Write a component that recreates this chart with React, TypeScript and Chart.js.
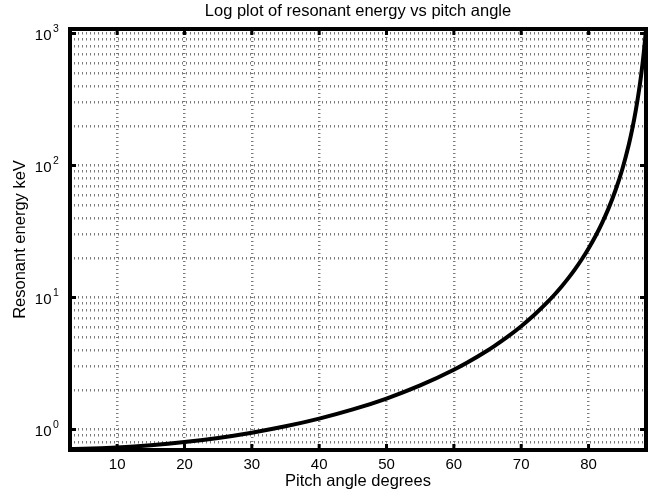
import React, { useEffect, useRef } from 'react';
import { Chart, registerables } from 'chart.js';

Chart.register(...registerables);

// Pitch angle (degrees) and resonant energy (keV)
const pitchAngles = [3, 5, 10, 15, 20, 25, 30, 35, 40, 45, 50, 55, 60, 62, 65, 66, 68, 70, 72, 74, 75, 76, 77, 78, 79, 80, 81, 82, 83, 84, 85, 86, 86.5, 87, 87.5, 87.8, 88, 88.1, 88.2, 88.3, 88.4, 88.53];
const resonantEnergy = [0.712, 0.715, 0.732, 0.761, 0.804, 0.864, 0.947, 1.058, 1.21, 1.42, 1.718, 2.158, 2.84, 3.221, 3.975, 4.292, 5.06, 6.07, 7.435, 9.345, 10.6, 12.13, 14.03, 16.42, 19.5, 23.55, 29.01, 36.66, 47.8, 64.98, 93.47, 145.9, 190.5, 259.2, 373.2, 481.8, 582.9, 645.9, 719.6, 806.7, 910.7, 1079];

// Axes
const xRange = [3, 88.53];
const yRange = [0.712, 1083];
const xTicks = [10, 20, 30, 40, 50, 60, 70, 80];
const yDecades = [1, 10, 100, 1000];
const yDecadeExponents = ['0', '1', '2', '3'];
const yGridValues = [
  0.8, 0.9,
  1, 2, 3, 4, 5, 6, 7, 8, 9,
  10, 20, 30, 40, 50, 60, 70, 80, 90,
  100, 200, 300, 400, 500, 600, 700, 800, 900,
  1000,
];

// Texts
const titleText = 'Log plot of resonant energy vs pitch angle';
const xLabelText = 'Pitch angle degrees';
const yLabelText = 'Resonant energy keV';

const FONT = '"Liberation Sans", Arial, Helvetica, sans-serif';

const matlabFrame = {
  id: 'matlabFrame',
  afterDraw(chart: any) {
    const { ctx, chartArea: a, scales } = chart;
    const xs = scales.x;
    const ys = scales.y;
    ctx.save();
    ctx.setLineDash([]);
    // frame
    ctx.strokeStyle = '#000';
    ctx.lineWidth = 4;
    ctx.lineJoin = 'miter';
    ctx.strokeRect(a.left, a.top, a.right - a.left, a.bottom - a.top);
    // inward ticks
    ctx.lineWidth = 3;
    ctx.lineCap = 'butt';
    ctx.beginPath();
    xTicks.forEach((v) => {
      const px = xs.getPixelForValue(v);
      ctx.moveTo(px, a.bottom);
      ctx.lineTo(px, a.bottom - 6);
      ctx.moveTo(px, a.top);
      ctx.lineTo(px, a.top + 6);
    });
    yDecades.forEach((v) => {
      const py = ys.getPixelForValue(v);
      ctx.moveTo(a.left, py);
      ctx.lineTo(a.left + 6, py);
      ctx.moveTo(a.right, py);
      ctx.lineTo(a.right - 6, py);
    });
    ctx.stroke();

    ctx.fillStyle = '#000';
    // x tick labels
    ctx.font = `15px ${FONT}`;
    ctx.textAlign = 'center';
    ctx.textBaseline = 'alphabetic';
    xTicks.forEach((v) => {
      ctx.fillText(String(v), xs.getPixelForValue(v), a.bottom + 18.5);
    });
    // y tick labels with superscripts
    yDecades.forEach((v, i) => {
      const py = ys.getPixelForValue(v);
      ctx.font = `15px ${FONT}`;
      ctx.textAlign = 'right';
      ctx.fillText('10', 51.5, py + 6);
      ctx.font = `10.5px ${FONT}`;
      ctx.textAlign = 'left';
      ctx.fillText(yDecadeExponents[i], 53, py - 1.5);
    });
    // title & axis labels
    const cx = (a.left + a.right) / 2;
    const cy = (a.top + a.bottom) / 2;
    ctx.font = `16.5px ${FONT}`;
    ctx.textAlign = 'center';
    ctx.fillText(titleText, cx, 15.5);
    ctx.fillText(xLabelText, cx, 485.5);
    ctx.save();
    ctx.translate(25, cy);
    ctx.rotate(-Math.PI / 2);
    ctx.fillText(yLabelText, 0, 0);
    ctx.restore();
    ctx.restore();
  },
};

export default function App() {
  const ref = useRef<HTMLCanvasElement>(null);
  useEffect(() => {
    document.body.style.margin = '0';
    const gridStyle = {
      color: '#7a7a7a',
      lineWidth: 2.5,
      drawTicks: false,
      drawOnChartArea: true,
    };
    const chart = new Chart(ref.current as HTMLCanvasElement, {
      type: 'line',
      data: {
        datasets: [
          {
            data: pitchAngles.map((x, i) => ({ x, y: resonantEnergy[i] })),
            borderColor: '#000',
            borderWidth: 4,
            pointRadius: 0,
            fill: false,
            cubicInterpolationMode: 'monotone',
          },
        ],
      },
      options: {
        responsive: false,
        animation: false,
        layout: { padding: { left: 70, right: 10, top: 29, bottom: 45 } },
        plugins: {
          legend: { display: false },
          title: { display: false },
          tooltip: { enabled: false },
        },
        scales: {
          x: {
            type: 'linear',
            min: xRange[0],
            max: xRange[1],
            ticks: { display: false },
            grid: gridStyle,
            border: { display: false, dash: [1, 3] },
            afterBuildTicks: (axis: any) => {
              axis.ticks = xTicks.map((v) => ({ value: v }));
            },
          },
          y: {
            type: 'logarithmic',
            min: yRange[0],
            max: yRange[1],
            ticks: { display: false },
            grid: gridStyle,
            border: { display: false, dash: [1, 3] },
            afterBuildTicks: (axis: any) => {
              axis.ticks = yGridValues.map((v) => ({ value: v }));
            },
          },
        },
      },
      plugins: [matlabFrame],
    } as any);
    return () => chart.destroy();
  }, []);
  return (
    <canvas
      ref={ref}
      width={656}
      height={495}
      style={{ display: 'block', width: 656, height: 495 }}
    />
  );
}
